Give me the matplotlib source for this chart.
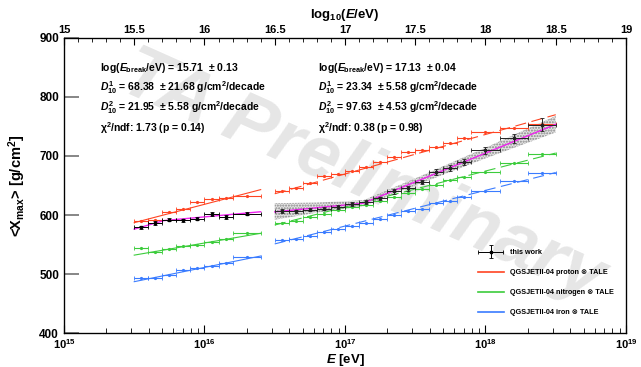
import numpy as np
import matplotlib
matplotlib.use("Agg")
import matplotlib.pyplot as plt
from matplotlib.ticker import FixedLocator, NullFormatter, LogLocator
from matplotlib.legend_handler import HandlerErrorbar

plt.rcParams["font.family"] = ["Liberation Sans", "DejaVu Sans"]
plt.rcParams["font.weight"] = "bold"
plt.rcParams["axes.labelweight"] = "bold"
plt.rcParams["mathtext.fontset"] = "custom"
plt.rcParams["mathtext.rm"] = "Liberation Sans:bold"
plt.rcParams["mathtext.bf"] = "Liberation Sans:bold"
plt.rcParams["mathtext.it"] = "Liberation Sans:italic:bold"

# ---- data (log10(E/eV) bin edges, <Xmax> in g/cm^2) ----
lo_edges = [15.5, 15.6, 15.7, 15.8, 15.9, 16.0, 16.1, 16.2, 16.4]
hi_edges = [16.5, 16.6, 16.7, 16.8, 16.9, 17.0, 17.1, 17.2, 17.3, 17.4,
            17.5, 17.6, 17.7, 17.8, 17.9, 18.1, 18.3, 18.5]

data_lo = [579, 586, 592, 591, 594, 602, 597, 602]
data_lo_err = [3, 3, 2.5, 2.5, 2.5, 3, 3, 2.5]
data_hi = [607, 606, 609, 611, 614, 619, 622, 628, 640, 645, 656, 673,
           679, 690, 710, 730, 753]
data_hi_err = [3, 3, 3, 3, 3, 3, 3, 3, 4, 4, 4, 5, 5, 5, 6, 8, 11]

proton_lo = [589, 592, 605, 610, 622, 627, 628, 633]
proton_hi = [640, 645, 654, 666, 670, 675, 682, 690, 699, 706, 710, 716,
             722, 730, 740, 748, 755]
nitrogen_lo = [544, 538, 543, 547, 550, 555, 559, 569]
nitrogen_hi = [587, 590, 597, 601, 608, 613, 617, 624, 630, 637, 644, 651,
               660, 664, 673, 688, 703]
iron_lo = [493, 493, 498, 507, 510, 514, 518, 529]
iron_hi = [558, 560, 565, 571, 577, 581, 587, 594, 600, 606, 611, 620,
           624, 630, 641, 657, 672]

# MC fit lines (end points)
fit_lo_lg = [15.5, 16.4]
fit_hi_lg = [16.5, 18.5]
proton_fit_lo = [587, 643]
proton_fit_hi = [636, 770]
nitrogen_fit_lo = [532, 569]
nitrogen_fit_hi = [583, 705]
iron_fit_lo = [487, 530.5]
iron_fit_hi = [551, 672]

# broken-line fits to data
brk_lo_lg = [15.5, 15.71, 16.4]
brk_lo = [576, 590.5, 605.5]
brk_hi_lg = [16.5, 17.13, 18.5]
brk_hi = [605.3, 620, 753.7]

# fit uncertainty band
band_lg = [16.5, 16.8, 17.13, 17.5, 18.0, 18.5]
band_low = [592, 604, 615, 650, 696, 740]
band_high = [620, 621, 625, 662, 714, 768]

RED = "#ff4422"
GREEN = "#3ccc3c"
BLUE = "#3a7cff"
MAGENTA = "#ee22ee"

fig = plt.figure(figsize=(6.41, 3.67), dpi=100)
ax = fig.add_axes([0.0998, 0.0926, 0.8768, 0.8039])
ax.set_xscale("log")
ax.set_xlim(1e15, 1e19)
ax.set_ylim(400, 900)


def bins(edges):
    e = np.array(edges)
    c = (e[:-1] + e[1:]) / 2
    x = 10 ** c
    return x, [x - 10 ** e[:-1], 10 ** e[1:] - x]


def draw_mc(edges, vals, color, label=None):
    x, xerr = bins(edges)
    ax.errorbar(x, vals, xerr=xerr, fmt="o", ms=1.3, color=color,
                elinewidth=0.8, capsize=1.3, capthick=0.6, label=label)


for lo, hi, flo, fhi, col, lab in [
        (proton_lo, proton_hi, proton_fit_lo, proton_fit_hi, RED,
         "QGSJETII-04 proton \u2297 TALE"),
        (nitrogen_lo, nitrogen_hi, nitrogen_fit_lo, nitrogen_fit_hi, GREEN,
         "QGSJETII-04 nitrogen \u2297 TALE"),
        (iron_lo, iron_hi, iron_fit_lo, iron_fit_hi, BLUE,
         "QGSJETII-04 iron \u2297 TALE")]:
    draw_mc(lo_edges, lo, col)
    draw_mc(hi_edges, hi, col)
    ax.plot(10 ** np.array(fit_lo_lg), flo, color=col, lw=0.8)
    ax.plot(10 ** np.array(fit_hi_lg), fhi, color=col, lw=0.8,
            ls=(0, (10, 5)))
    ax.plot([], [], color=col, lw=1.2, label=lab)

# band
bx = 10 ** np.array(band_lg)
ax.fill_between(bx, band_low, band_high, facecolor="#e0e0e0",
                edgecolor="#777777", hatch="......", lw=0, zorder=1.5,
                alpha=0.85)

ax.plot(10 ** np.array(brk_lo_lg), brk_lo, color=MAGENTA, lw=1.0, zorder=3)
ax.plot(10 ** np.array(brk_hi_lg), brk_hi, color=MAGENTA, lw=1.0, zorder=3)

x, xerr = bins(lo_edges)
h = ax.errorbar(x, data_lo, xerr=xerr, yerr=data_lo_err, fmt="s", ms=1.8,
                color="black", elinewidth=0.7, capsize=1.3, capthick=0.6,
                zorder=4)
x, xerr = bins(hi_edges)
ax.errorbar(x, data_hi, xerr=xerr, yerr=data_hi_err, fmt="s", ms=1.8,
            color="#222222", elinewidth=0.7, capsize=1.3, capthick=0.6,
            zorder=4)

# watermark
ax.text(0.53, 0.53, "TA Preliminary", transform=ax.transAxes,
        fontsize=54, style="italic", weight="bold", color="#e6e6e6",
        rotation=-24, ha="center", va="center", zorder=0.5)

# annotations
left_txt = ["log($\\mathit{E}_{\\mathrm{break}}$/eV) = 15.71  \u00b1 0.13",
            "$\\mathit{D}^{1}_{10}$ = 68.38  \u00b1 21.68 g/cm$^{2}$/decade",
            "$\\mathit{D}^{2}_{10}$ = 21.95  \u00b1 5.58 g/cm$^{2}$/decade",
            "\u03c7$^{2}$/ndf: 1.73 (p = 0.14)"]
right_txt = ["log($\\mathit{E}_{\\mathrm{break}}$/eV) = 17.13  \u00b1 0.04",
             "$\\mathit{D}^{1}_{10}$ = 23.34  \u00b1 5.58 g/cm$^{2}$/decade",
             "$\\mathit{D}^{2}_{10}$ = 97.63  \u00b1 4.53 g/cm$^{2}$/decade",
             "\u03c7$^{2}$/ndf: 0.38 (p = 0.98)"]
for i, (lt, rt) in enumerate(zip(left_txt, right_txt)):
    y = 1 - (68 + 20 * i) / 367
    fig.text(100 / 641, y, lt, fontsize=7.5, va="center", ha="left")
    fig.text(318 / 641, y, rt, fontsize=7.5, va="center", ha="left")

# axes styling
ax.set_yticks([400, 500, 600, 700, 800, 900])
ax.tick_params(axis="y", direction="in", length=11, width=1.1,
               color="#666666", labelsize=8.5, right=False)
ax.tick_params(axis="x", which="major", direction="in", length=6,
               labelsize=8, top=False, pad=3)
ax.tick_params(axis="x", which="minor", direction="in", length=3.5,
               top=False)
ax.xaxis.set_major_locator(FixedLocator([1e15, 1e16, 1e17, 1e18, 1e19]))
ax.xaxis.set_minor_locator(LogLocator(base=10, subs=np.arange(2, 10)))
ax.xaxis.set_minor_formatter(NullFormatter())
ax.set_xticklabels(["$\\mathbf{10^{15}}$", "$\\mathbf{10^{16}}$",
                    "$\\mathbf{10^{17}}$", "$\\mathbf{10^{18}}$",
                    "$\\mathbf{10^{19}}$"])
for s in ax.spines.values():
    s.set_linewidth(0.9)

ax.set_xlabel("$\\mathit{E}$ [eV]", fontsize=9.5, labelpad=0.5)
ax.set_ylabel("<X$_{\\mathrm{max}}$> [g/cm$^{2}$]", fontsize=10.5,
              labelpad=8)

top = ax.twiny()
top.set_xlim(15, 19)
top.set_xticks(np.arange(15, 19.01, 0.5))
top.set_xticks(np.arange(15, 19.01, 0.1), minor=True)
top.set_xticklabels(["15", "15.5", "16", "16.5", "17", "17.5", "18",
                     "18.5", "19"])
top.tick_params(axis="x", which="major", direction="in", length=5,
                labelsize=8, pad=2)
top.tick_params(axis="x", which="minor", direction="in", length=3)
top.set_xlabel("log$_{10}$($\\mathit{E}$/eV)", fontsize=9.5, labelpad=5)

ax.legend(handles=[h] + ax.get_legend_handles_labels()[0],
          labels=["this work"] + ax.get_legend_handles_labels()[1],
          handler_map={h: HandlerErrorbar(xerr_size=1.7, yerr_size=0.9)},
          loc="center left", bbox_to_anchor=(0.735, 0.23),
          bbox_transform=fig.transFigure, frameon=False, fontsize=5.2,
          handlelength=3.6, handletextpad=0.9, labelspacing=1.8)

fig.savefig("out.png", dpi=100)
